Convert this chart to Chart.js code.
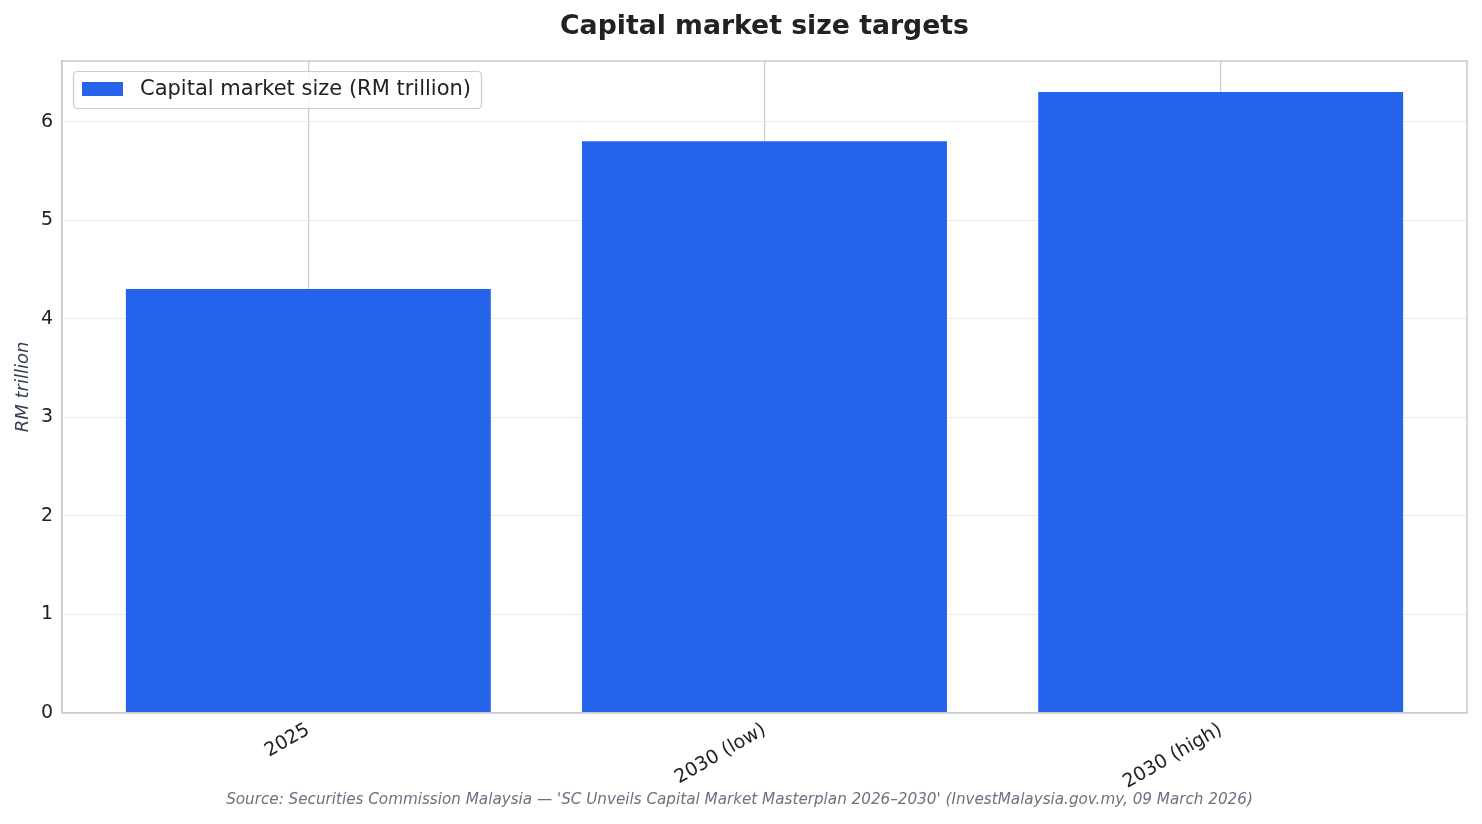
<!DOCTYPE html>
<html>
<head>
<meta charset="utf-8">
<script src="https://cdn.jsdelivr.net/npm/chart.js@4.4.1/dist/chart.umd.min.js"></script>
<style>
html,body{margin:0;padding:0;background:#fff;}
#wrap{width:1482px;height:824px;position:relative;}
</style>
</head>
<body>
<div id="wrap"><canvas id="c" width="1482" height="824"></canvas></div>
<script>
const categories = ["2025", "2030 (low)", "2030 (high)"];
const marketSize = [4.3, 5.8, 6.3];
const yTicks = [0, 1, 2, 3, 4, 5, 6];
const seriesName = "Capital market size (RM trillion)";
const titleText = "Capital market size targets";
const yTitle = "RM trillion";
const sourceText = "Source: Securities Commission Malaysia \u2014 'SC Unveils Capital Market Masterplan 2026\u20132030' (InvestMalaysia.gov.my, 09 March 2026)";

const FONT = "'DejaVu Sans', sans-serif";
const BAR = "#2563eb";

const boxPlugin = {
  id: 'boxPlugin',
  afterDatasetsDraw(chart) {
    const {ctx, chartArea: a} = chart;
    ctx.save();
    const lx = 73, ly = 71, lw = 408, lh = 37;
    ctx.beginPath();
    ctx.roundRect(lx + 0.5, ly + 0.5, lw, lh, 4);
    ctx.fillStyle = 'rgba(255,255,255,0.8)';
    ctx.fill();
    ctx.strokeStyle = '#cccccc';
    ctx.lineWidth = 1.2;
    ctx.stroke();
    ctx.fillStyle = BAR;
    ctx.fillRect(82, 82, 41, 14);
    ctx.fillStyle = '#222222';
    ctx.font = "21px " + FONT;
    ctx.textBaseline = 'middle';
    ctx.textAlign = 'left';
    ctx.fillText(seriesName, 140, 89.5);
    ctx.strokeStyle = '#cccccc';
    ctx.lineWidth = 1.5;
    ctx.strokeRect(a.left, a.top, a.right - a.left, a.bottom - a.top);
    ctx.restore();
  }
};

new Chart(document.getElementById('c'), {
  type: 'bar',
  data: {
    datasets: [{
      label: seriesName,
      data: categories.map((c, i) => ({x: i, y: marketSize[i]})),
      backgroundColor: BAR,
      borderWidth: 0,
      barPercentage: 1.0,
      categoryPercentage: 0.8
    }]
  },
  options: {
    responsive: false,
    animation: false,
    devicePixelRatio: 1,
    layout: {padding: {top: 0, right: 9, bottom: 0, left: 6}},
    plugins: {
      legend: {display: false},
      tooltip: {enabled: false},
      title: {
        display: true,
        text: titleText,
        fullSize: false,
        color: '#222222',
        font: {family: FONT, size: 26.7, weight: 'bold'},
        padding: {top: 11, bottom: 18}
      },
      subtitle: {
        display: true,
        text: sourceText,
        position: 'bottom',
        color: '#6b7280',
        font: {family: FONT, size: 15.2, style: 'italic'},
        padding: {top: 0, bottom: 15}
      }
    },
    scales: {
      x: {
        type: 'linear',
        offset: false,
        min: -0.54,
        max: 2.54,
        afterBuildTicks(s) { s.ticks = categories.map((c, i) => ({value: i})); },
        afterFit(s) { s.height = 78; },
        ticks: {
          callback: (v) => categories[v] ?? '',
          minRotation: 30,
          maxRotation: 30,
          autoSkip: false,
          color: '#222222',
          font: {family: FONT, size: 19},
          padding: 6
        },
        grid: {color: '#cccccc', lineWidth: 1.2, drawTicks: false, offset: false},
        border: {color: '#cccccc', width: 1.5}
      },
      y: {
        min: 0,
        max: 6.615,
        afterBuildTicks(s) { s.ticks = yTicks.map(v => ({value: v})); },
        afterFit(s) { s.width = 56; },
        ticks: {
          color: '#222222',
          font: {family: FONT, size: 19},
          padding: 9
        },
        grid: {color: '#ebebeb', lineWidth: 1, drawTicks: false},
        border: {color: '#cccccc', width: 1.5},
        title: {
          display: true,
          text: yTitle,
          color: '#374151',
          font: {family: FONT, size: 18, style: 'italic'},
          padding: {top: 7, bottom: 0}
        }
      },
      yRightSpacer: {
        type: 'linear',
        position: 'right',
        display: true,
        min: 0,
        max: 1,
        afterFit(s) { s.width = 6; },
        ticks: {display: false},
        grid: {display: false, drawTicks: false},
        border: {display: false}
      }
    }
  },
  plugins: [boxPlugin]
});
</script>
</body>
</html>
